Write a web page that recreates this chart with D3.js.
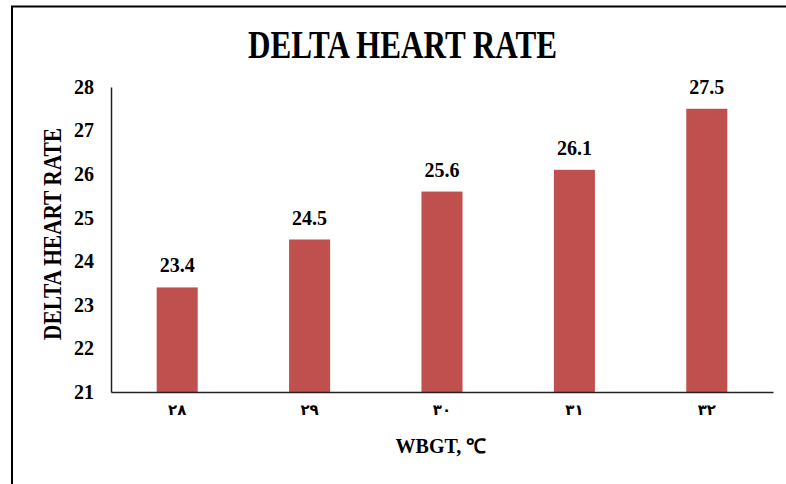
<!DOCTYPE html>
<html><head><meta charset="utf-8">
<script src="https://cdn.jsdelivr.net/npm/d3@7"></script>
<style>body{margin:0;background:#fff}svg{display:block}</style>
</head><body>
<script>
const categories = ["٢٨", "٢٩", "٣٠", "٣١", "٣٢"];
const values = [23.4, 24.5, 25.6, 26.1, 27.5];
const yTicks = [21, 22, 23, 24, 25, 26, 27, 28];
const title = "DELTA HEART RATE";
const xTitle = "WBGT, ℃";
const yTitle = "DELTA HEART RATE";

const W = 786, H = 484;
const m = {left: 111, right: 13, top: 87, bottom: 92};
const svg = d3.select("body").append("svg").attr("width", W).attr("height", H);
const font = "'Liberation Serif', 'Times New Roman', serif";

// frame
svg.append("path").attr("d", `M12,${H} L12,6.5 L${W},6.5`).attr("fill", "none").attr("stroke", "#000").attr("stroke-width", 2);

const x = d3.scaleBand().domain(categories).range([m.left, W - m.right]).paddingInner(0.69).paddingOuter(0.345);
const y = d3.scaleLinear().domain([21, 28]).range([H - m.bottom, m.top]);

svg.append("text").attr("x", 402.5).attr("y", 58).attr("text-anchor", "middle")
  .attr("font-family", font).attr("font-weight", "bold").attr("font-size", 40)
  .attr("textLength", 309).attr("lengthAdjust", "spacingAndGlyphs").text(title);

svg.selectAll("rect.bar").data(values).join("rect").attr("class", "bar")
  .attr("x", (d, i) => x(categories[i])).attr("width", x.bandwidth())
  .attr("y", d => y(d)).attr("height", d => y(21) - y(d)).attr("fill", "#C0504D");

svg.selectAll("text.lbl").data(values).join("text").attr("class", "lbl")
  .attr("x", (d, i) => x(categories[i]) + x.bandwidth() / 2).attr("y", d => y(d) - 15)
  .attr("text-anchor", "middle").attr("font-family", font).attr("font-weight", "bold").attr("font-size", 20)
  .text(d => d.toFixed(1));

const ya = svg.append("g").attr("transform", `translate(${m.left},0)`)
  .call(d3.axisLeft(y).tickValues(yTicks).tickSize(0).tickPadding(17).tickFormat(d3.format("d")));
ya.select(".domain").attr("stroke", "#222").attr("stroke-width", 1.5);
ya.selectAll("text").attr("font-family", font).attr("font-weight", "bold").attr("font-size", 20).attr("fill", "#000");

const xa = svg.append("g").attr("transform", `translate(0,${H - m.bottom})`)
  .call(d3.axisBottom(x).tickSize(0).tickPadding(12));
xa.select(".domain").attr("stroke", "#222").attr("stroke-width", 1.5);
xa.selectAll("text").attr("font-family", "'DejaVu Sans', sans-serif").attr("font-weight", "bold").attr("font-size", 15).attr("fill", "#000");

svg.append("text").attr("x", 441).attr("y", 453).attr("text-anchor", "middle")
  .attr("font-family", font).attr("font-weight", "bold").attr("font-size", 20).text(xTitle);

svg.append("text").attr("transform", "translate(61,234) rotate(-90)").attr("text-anchor", "middle")
  .attr("font-family", font).attr("font-weight", "bold").attr("font-size", 25)
  .attr("textLength", 212).attr("lengthAdjust", "spacingAndGlyphs").text(yTitle);
</script>
</body></html>
